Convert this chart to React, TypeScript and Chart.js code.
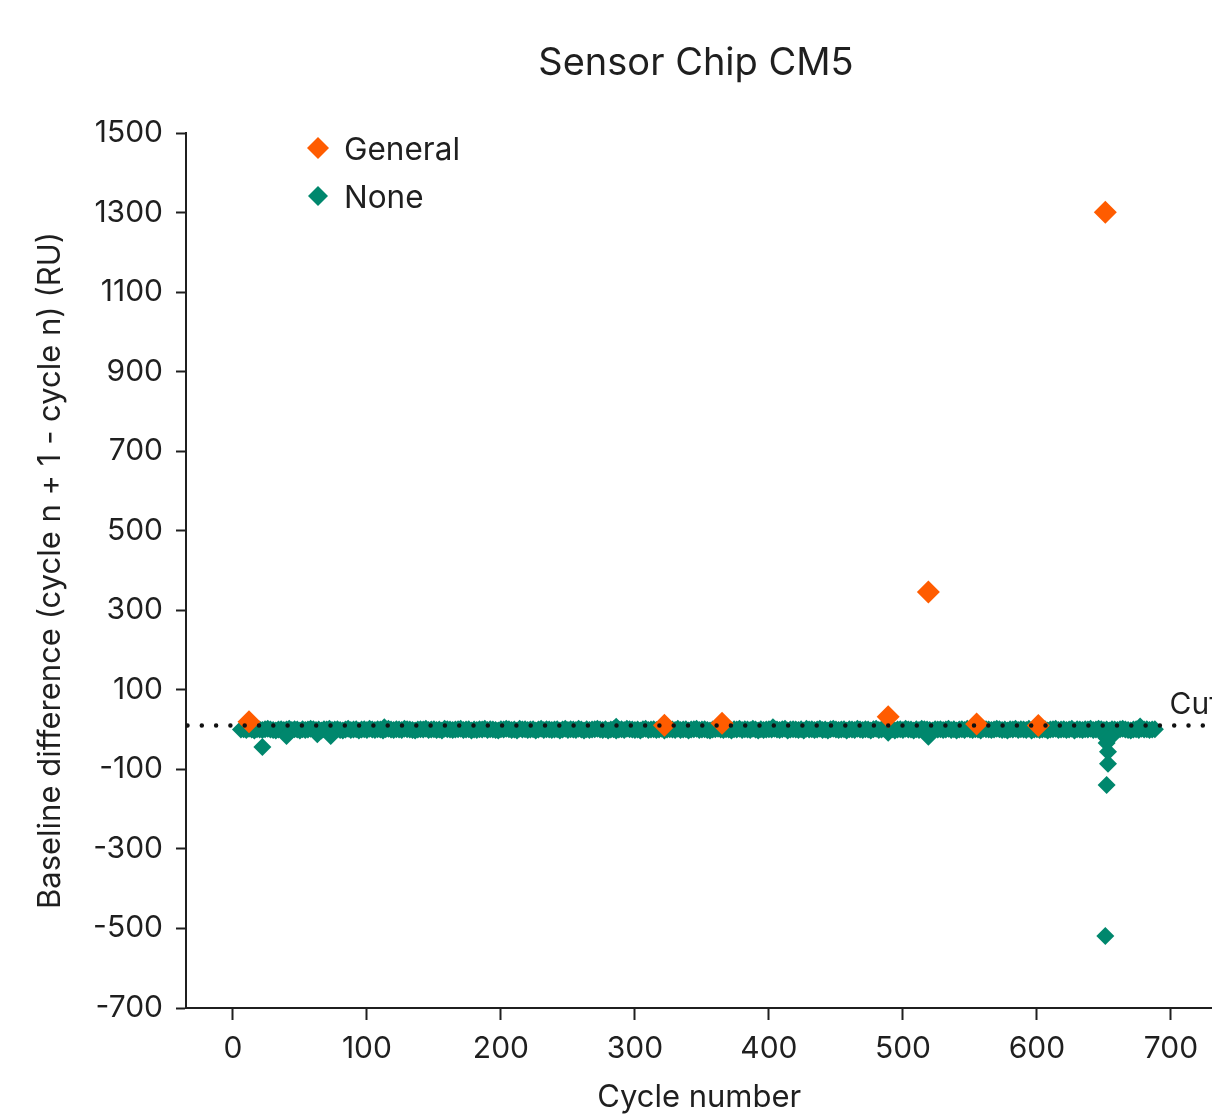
import React, { useEffect, useRef } from 'react';
import { Chart, registerables } from 'chart.js';

Chart.register(...registerables);

const TITLE = 'Sensor Chip CM5';
const X_TITLE = 'Cycle number';
const Y_TITLE = 'Baseline difference (cycle n + 1 - cycle n) (RU)';
const SERIES_NAMES = ['General', 'None'];
const SERIES_COLORS = ['#ff5c00', '#00876d'];
const X_TICKS = [0, 100, 200, 300, 400, 500, 600, 700];
const Y_TICKS = [-700, -500, -300, -100, 100, 300, 500, 700, 900, 1100, 1300, 1500];
const CUTOFF_VALUE = 10;
const CUTOFF_LABEL = 'Cutoff';

const GENERAL_CYCLES = [12, 322, 365, 489, 519, 555, 601, 651];
const GENERAL_VALUES = [20, 11, 16, 32, 346, 14, 10, 1301];

// dense band of cycles with no injection
const NONE_CYCLES = [
  6, 8, 10, 12, 14, 16, 18, 20, 22, 24, 26, 28, 30, 32, 34, 36, 38, 40, 42, 44,
  46, 48, 50, 52, 54, 56, 58, 60, 62, 64, 66, 68, 70, 72, 74, 76, 78, 80, 82, 84,
  86, 88, 90, 92, 94, 96, 98, 100, 102, 104, 106, 108, 110, 112, 114, 116, 118, 120, 122, 124,
  126, 128, 130, 132, 134, 136, 138, 140, 142, 144, 146, 148, 150, 152, 154, 156, 158, 160, 162, 164,
  166, 168, 170, 172, 174, 176, 178, 180, 182, 184, 186, 188, 190, 192, 194, 196, 198, 200, 202, 204,
  206, 208, 210, 212, 214, 216, 218, 220, 222, 224, 226, 228, 230, 232, 234, 236, 238, 240, 242, 244,
  246, 248, 250, 252, 254, 256, 258, 260, 262, 264, 266, 268, 270, 272, 274, 276, 278, 280, 282, 284,
  286, 288, 290, 292, 294, 296, 298, 300, 302, 304, 306, 308, 310, 312, 314, 316, 318, 320, 322, 324,
  326, 328, 330, 332, 334, 336, 338, 340, 342, 344, 346, 348, 350, 352, 354, 356, 358, 360, 362, 364,
  366, 368, 370, 372, 374, 376, 378, 380, 382, 384, 386, 388, 390, 392, 394, 396, 398, 400, 402, 404,
  406, 408, 410, 412, 414, 416, 418, 420, 422, 424, 426, 428, 430, 432, 434, 436, 438, 440, 442, 444,
  446, 448, 450, 452, 454, 456, 458, 460, 462, 464, 466, 468, 470, 472, 474, 476, 478, 480, 482, 484,
  486, 488, 490, 492, 494, 496, 498, 500, 502, 504, 506, 508, 510, 512, 514, 516, 518, 520, 522, 524,
  526, 528, 530, 532, 534, 536, 538, 540, 542, 544, 546, 548, 550, 552, 554, 556, 558, 560, 562, 564,
  566, 568, 570, 572, 574, 576, 578, 580, 582, 584, 586, 588, 590, 592, 594, 596, 598, 600, 602, 604,
  606, 608, 610, 612, 614, 616, 618, 620, 622, 624, 626, 628, 630, 632, 634, 636, 638, 640, 642, 644,
  646, 648, 650, 652, 654, 656, 658, 660, 662, 664, 666, 668, 670, 672, 674, 676, 678, 680, 682, 684,
  686, 688,
];
const NONE_VALUES = [
  0, 1, -1, 2, 0, -2, 1, 0, -1, 1, 2, 0, -1, -2, 0, 1, -1, 0, 2, -1,
  1, 0, -2, 1, -1, 0, 2, 1, -1, 0, -2, 1, 0, 2, -1, 0, 1, -1, -2, 0,
  2, -1, 0, 1, -2, 0, 1, -1, 2, 0, -1, 1, 0, -2, 1, 2, 0, -1, 1, 0,
  -1, 2, 1, 0, -1, -2, 0, 1, 0, 2, -1, 0, 1, -1, 0, -2, 2, 1, 0, -1,
  0, 1, 2, -1, 0, 1, -2, 0, -1, 1, 0, 2, -1, 1, 0, -1, -2, 1, 0, 2,
  1, -1, 0, -2, 2, 0, 1, -1, 0, 1, -2, 0, 2, -1, 1, 0, -1, 0, 1, -2,
  0, 2, -1, 1, 0, -1, 2, 0, -2, 1, -1, 0, 1, 2, 0, -1, 1, -2, 0, 1,
  -2, 0, 1, -1, 2, 1, 0, -1, 0, -2, 1, 2, -1, 0, 1, -1, 0, 2, -2, 0,
  1, 0, -1, 2, -1, 0, 1, -2, 0, 1, 2, -1, 0, 1, -1, -2, 0, 1, 2, 0,
  -1, 1, 0, -2, 1, 0, 2, -1, 1, 0, -1, 2, 0, -2, 1, -1, 0, 1, 0, 2,
  0, -1, 1, 2, -2, 0, 1, 0, -1, 1, -2, 2, 0, 1, -1, 0, 2, -1, 0, -2,
  1, 2, 0, -1, 0, 1, -2, 1, 0, -1, 2, 0, -1, 1, 0, -2, 1, 2, -1, 0,
  2, 0, -1, 1, -2, 0, 1, -1, 2, 0, 0, -2, 1, -1, 2, 1, 0, -1, -2, 1,
  0, 1, -1, 0, 2, -1, 1, -2, 0, 1, -1, 2, 0, -1, 1, 0, -2, 2, 1, 0,
  -1, 0, 2, 1, -1, 0, -2, 1, 0, 2, -1, 1, 0, -1, 2, -2, 0, 1, -1, 0,
  1, -2, 0, 1, 2, -1, 0, 1, -1, 0, 2, -2, 1, 0, -1, 1, 0, 2, -1, 0,
  2, 1, -1, 0, -2, 1, 0, -1, 1, 2, 0, -1, -2, 0, 1, -1, 2, 0, 1, -1,
  0, 1,
];

// individual outlying cycles of the "None" series
const NONE_OUTLIER_CYCLES = [22, 40, 63, 73, 113, 286, 403, 489, 519, 650, 652, 652, 653, 653, 652, 651, 655, 677];
const NONE_OUTLIER_VALUES = [-44, -16, -12, -16, 6, 7, 6, -8, -18, -14, -22, -34, -56, -86, -139, -519, -20, 8];

const X_MIN = -35;
const X_MAX = 731;
const Y_MIN = -700;
const Y_MAX = 1500;

const FONT = 'Inter';
const INK = '#1f1f1f';

function diamond(ctx: CanvasRenderingContext2D, x: number, y: number, r: number, color: string) {
  ctx.beginPath();
  ctx.moveTo(x, y - r);
  ctx.lineTo(x + r, y);
  ctx.lineTo(x, y + r);
  ctx.lineTo(x - r, y);
  ctx.closePath();
  ctx.fillStyle = color;
  ctx.fill();
}

const overlayPlugin = {
  id: 'overlay',
  afterDraw(chart: any) {
    const { ctx, chartArea, scales } = chart;
    ctx.save();
    ctx.fillStyle = INK;
    ctx.font = `38px ${FONT}`;
    ctx.textAlign = 'center';
    ctx.textBaseline = 'middle';
    ctx.fillText(TITLE, 696, 64);
    ctx.font = `31.5px ${FONT}`;
    ctx.textAlign = 'left';
    const lx = chartArea.left + 132;
    const rows = [148, 196];
    SERIES_NAMES.forEach((name, i) => {
      diamond(ctx, lx, rows[i], i === 0 ? 11 : 10, SERIES_COLORS[i]);
      ctx.fillStyle = INK;
      ctx.fillText(name, lx + 26, rows[i] + 3);
    });
    ctx.font = `30px ${FONT}`;
    ctx.textBaseline = 'middle';
    ctx.fillText(CUTOFF_LABEL, scales.x.getPixelForValue(699), scales.y.getPixelForValue(CUTOFF_VALUE) - 21);
    ctx.restore();
  },
};

export default function App() {
  const ref = useRef<HTMLCanvasElement | null>(null);

  useEffect(() => {
    if (!ref.current) return;
    Chart.defaults.font.family = FONT;
    Chart.defaults.color = INK;

    const noneData = NONE_CYCLES.map((c, i) => ({ x: c, y: NONE_VALUES[i] })).concat(
      NONE_OUTLIER_CYCLES.map((c, i) => ({ x: c, y: NONE_OUTLIER_VALUES[i] }))
    );

    const chart = new Chart(ref.current, {
      type: 'scatter',
      data: {
        datasets: [
          {
            type: 'line',
            label: 'cutoff',
            data: [
              { x: X_MIN, y: CUTOFF_VALUE },
              { x: X_MAX, y: CUTOFF_VALUE },
            ],
            borderColor: '#111',
            borderWidth: 4.5,
            borderDash: [0, 14.3],
            borderDashOffset: -1.5,
            borderCapStyle: 'round',
            pointRadius: 0,
            order: 0,
          } as any,
          {
            label: SERIES_NAMES[0],
            data: GENERAL_CYCLES.map((c, i) => ({ x: c, y: GENERAL_VALUES[i] })),
            backgroundColor: SERIES_COLORS[0],
            borderWidth: 0,
            pointStyle: 'rectRot',
            pointRadius: 11.5,
            order: 1,
          },
          {
            label: SERIES_NAMES[1],
            data: noneData,
            backgroundColor: SERIES_COLORS[1],
            borderWidth: 0,
            pointStyle: 'rectRot',
            pointRadius: 9,
            order: 2,
          },
        ],
      },
      options: {
        animation: false,
        responsive: false,
        layout: { padding: { top: 133, right: 0, bottom: 0, left: 0 } },
        plugins: {
          legend: { display: false },
          title: { display: false },
          tooltip: { enabled: false },
        },
        scales: {
          x: {
            type: 'linear',
            min: X_MIN,
            max: X_MAX,
            afterFit: (s: any) => {
              s.height = 110;
              s.paddingRight = 0;
              s.paddingLeft = 0;
            },
            afterBuildTicks: (s: any) => {
              s.ticks = X_TICKS.map((v) => ({ value: v }));
            },
            grid: {
              drawOnChartArea: false,
              drawTicks: true,
              tickLength: 12,
              tickColor: INK,
              tickWidth: 2,
            },
            border: { color: INK, width: 2 },
            ticks: {
              padding: 11,
              color: INK,
              font: { size: 30, family: FONT },
              maxRotation: 0,
              callback: (v: any) => String(v),
            },
            title: {
              display: true,
              text: X_TITLE,
              color: INK,
              font: { size: 31, family: FONT },
              padding: { top: 0, bottom: 2 },
            },
          },
          y: {
            type: 'linear',
            min: Y_MIN,
            max: Y_MAX,
            afterFit: (s: any) => {
              s.width = 186;
            },
            afterBuildTicks: (s: any) => {
              s.ticks = Y_TICKS.map((v) => ({ value: v }));
            },
            grid: {
              drawOnChartArea: false,
              drawTicks: true,
              tickLength: 10,
              tickColor: INK,
              tickWidth: 2,
            },
            border: { color: INK, width: 2 },
            ticks: {
              padding: 13,
              color: INK,
              font: { size: 30, family: FONT },
              callback: (v: any) => String(v),
            },
            title: {
              display: true,
              text: Y_TITLE,
              color: INK,
              font: { size: 31, family: FONT },
              padding: { top: 32, bottom: 0 },
            },
          },
        },
      },
      plugins: [overlayPlugin],
    });
    return () => chart.destroy();
  }, []);

  return (
    <div style={{ position: 'fixed', left: 0, top: 0, width: 1212, height: 1118, overflow: 'hidden', background: '#fff' }}>
      <canvas ref={ref} width={1224} height={1118} style={{ display: 'block' }} />
    </div>
  );
}
